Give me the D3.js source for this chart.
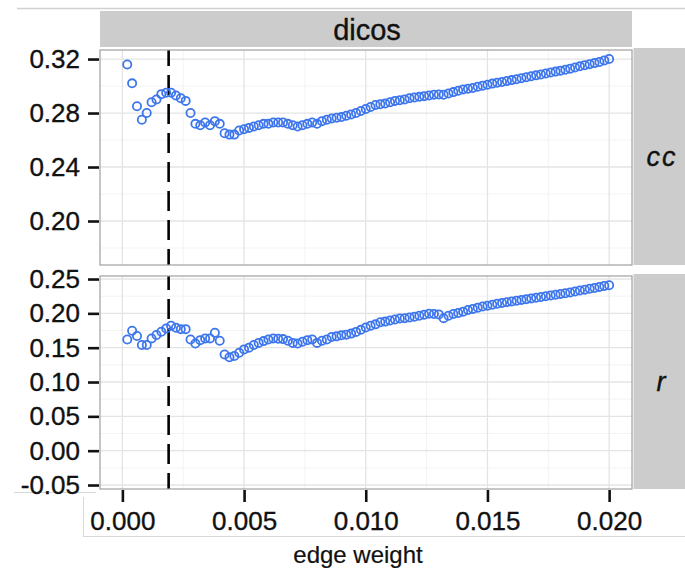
<!DOCTYPE html>
<html>
<head>
<meta charset="utf-8">
<script src="https://cdn.jsdelivr.net/npm/d3@7"></script>
<style>
  body { margin: 0; background: #fff; }
  svg text { font-family: "Liberation Sans", Arial, Helvetica, sans-serif; fill: #111; stroke: #111; stroke-width: 0.35px; }
</style>
</head>
<body>
<script>
// edge weight values along x
var edgeWeight = [0.0002,0.0004,0.0006,0.0008,0.0010,0.0012,0.0014,0.0016,0.0018,0.0020,
  0.0022,0.0024,0.0026,0.0028,0.0030,0.0032,0.0034,0.0036,0.0038,0.0040,
  0.0042,0.0044,0.0046,0.0048,0.0050,0.0052,0.0054,0.0056,0.0058,0.0060,
  0.0062,0.0064,0.0066,0.0068,0.0070,0.0072,0.0074,0.0076,0.0078,0.0080,
  0.0082,0.0084,0.0086,0.0088,0.0090,0.0092,0.0094,0.0096,0.0098,0.0100,
  0.0102,0.0104,0.0106,0.0108,0.0110,0.0112,0.0114,0.0116,0.0118,0.0120,
  0.0122,0.0124,0.0126,0.0128,0.0130,0.0132,0.0134,0.0136,0.0138,0.0140,
  0.0142,0.0144,0.0146,0.0148,0.0150,0.0152,0.0154,0.0156,0.0158,0.0160,
  0.0162,0.0164,0.0166,0.0168,0.0170,0.0172,0.0174,0.0176,0.0178,0.0180,
  0.0182,0.0184,0.0186,0.0188,0.0190,0.0192,0.0194,0.0196,0.0198,0.0200];

var ccValues = [0.316,0.302,0.285,0.275,0.280,0.288,0.290,0.294,0.295,0.295,
  0.293,0.291,0.289,0.280,0.272,0.271,0.273,0.271,0.274,0.272,
  0.265,0.264,0.264,0.267,0.268,0.269,0.270,0.271,0.272,0.272,
  0.273,0.273,0.273,0.272,0.271,0.270,0.271,0.272,0.273,0.272,
  0.274,0.275,0.276,0.2765,0.277,0.278,0.279,0.280,0.2815,0.283,
  0.2845,0.286,0.2865,0.287,0.288,0.289,0.2895,0.290,0.291,0.2915,
  0.292,0.2925,0.293,0.2935,0.2937,0.2935,0.2945,0.2955,0.2965,0.2975,
  0.298,0.2985,0.2995,0.3003,0.301,0.3018,0.3025,0.303,0.3037,0.3044,
  0.305,0.3058,0.3065,0.3072,0.3079,0.3086,0.3093,0.310,0.3107,0.3114,
  0.3121,0.3129,0.3137,0.3146,0.3154,0.3162,0.317,0.3178,0.319,0.320];

var rValues = [0.162,0.1746,0.167,0.154,0.154,0.1635,0.1684,0.1732,0.178,0.182,
  0.179,0.177,0.177,0.162,0.156,0.161,0.1635,0.1635,0.1717,0.160,
  0.140,0.136,0.138,0.1426,0.1475,0.150,0.154,0.157,0.1596,0.162,
  0.1635,0.163,0.1625,0.160,0.157,0.156,0.1586,0.161,0.162,0.157,
  0.160,0.162,0.1655,0.1665,0.168,0.169,0.1705,0.173,0.176,0.1795,
  0.182,0.184,0.187,0.188,0.1895,0.191,0.1925,0.193,0.194,0.195,
  0.1965,0.198,0.1995,0.199,0.1985,0.193,0.1965,0.199,0.2005,0.2025,
  0.205,0.2065,0.2083,0.210,0.2112,0.2125,0.214,0.2152,0.2163,0.2174,
  0.2185,0.2196,0.2207,0.2218,0.2228,0.2239,0.225,0.2261,0.2272,0.2283,
  0.2292,0.2305,0.2318,0.2332,0.2345,0.2358,0.237,0.2385,0.240,0.241];

var xTicks = [0, 0.005, 0.010, 0.015, 0.020];
var xMinor = [0.0025, 0.0075, 0.0125, 0.0175];
var ccTicks = [0.20, 0.24, 0.28, 0.32];
var ccMinor = [0.18, 0.22, 0.26, 0.30];
var rTicks = [-0.05, 0, 0.05, 0.10, 0.15, 0.20, 0.25];
var rMinor = [-0.025, 0.025, 0.075, 0.125, 0.175, 0.225];
var cutoff = 0.0019;

var svg = d3.select("body")
            .append("svg")
            .attr("width", 685)
            .attr("height", 569);

var left = 100, right = 632;
var x = d3.scaleLinear().domain([-0.00092, 0.02094]).range([left, right]);

// plain hyphen for negatives, like the original
function fmt(p) { return d => d3.format(p)(d).replace("\u2212", "-"); }

var panels = [
  {name: "cc", values: ccValues, ticks: ccTicks, minor: ccMinor, top: 50, bottom: 265,
   domain: [0.1674, 0.3267]},
  {name: "r", values: rValues, ticks: rTicks, minor: rMinor, top: 276, bottom: 489,
   domain: [-0.0558, 0.2544]}
];

// stray frame lines from the original screenshot
svg.append("line").attr("x1", 17).attr("x2", 685).attr("y1", 8.5).attr("y2", 8.5)
   .attr("stroke", "#d0d0d0").attr("stroke-width", 1.5);
svg.append("line").attr("x1", 14).attr("x2", 96).attr("y1", 492.5).attr("y2", 492.5)
   .attr("stroke", "#d8d8d8").attr("stroke-width", 1);
svg.append("line").attr("x1", 83.5).attr("x2", 83.5).attr("y1", 497).attr("y2", 537)
   .attr("stroke", "#d8d8d8").attr("stroke-width", 1);
svg.append("line").attr("x1", 83).attr("x2", 685).attr("y1", 536.5).attr("y2", 536.5)
   .attr("stroke", "#d8d8d8").attr("stroke-width", 1);

// top strip
svg.append("rect").attr("x", left).attr("y", 11).attr("width", right - left).attr("height", 36)
   .attr("fill", "#cccccc");
svg.append("text").attr("x", (left + right) / 2 + 1).attr("y", 40)
   .attr("text-anchor", "middle").style("font-size", "29px").text("dicos");

panels.forEach(function(p) {
  var y = d3.scaleLinear().domain(p.domain).range([p.bottom, p.top]);
  var g = svg.append("g");

  g.append("rect").attr("x", left).attr("y", p.top)
   .attr("width", right - left).attr("height", p.bottom - p.top).attr("fill", "#fff");

  // minor grid
  g.selectAll(".vmin").data(xMinor).enter().append("line")
   .attr("x1", d => x(d)).attr("x2", d => x(d)).attr("y1", p.top).attr("y2", p.bottom)
   .attr("stroke", "#f3f3f3").attr("stroke-width", 1);
  g.selectAll(".hmin").data(p.minor).enter().append("line")
   .attr("x1", left).attr("x2", right).attr("y1", d => y(d)).attr("y2", d => y(d))
   .attr("stroke", "#f3f3f3").attr("stroke-width", 1);
  // major grid
  g.selectAll(".vmaj").data(xTicks).enter().append("line")
   .attr("x1", d => x(d)).attr("x2", d => x(d)).attr("y1", p.top).attr("y2", p.bottom)
   .attr("stroke", "#e4e4e4").attr("stroke-width", 1.3);
  g.selectAll(".hmaj").data(p.ticks).enter().append("line")
   .attr("x1", left).attr("x2", right).attr("y1", d => y(d)).attr("y2", d => y(d))
   .attr("stroke", "#e4e4e4").attr("stroke-width", 1.3);

  // cutoff line
  g.append("line").attr("x1", x(cutoff)).attr("x2", x(cutoff))
   .attr("y1", p.bottom).attr("y2", p.top)
   .attr("stroke", "#000").attr("stroke-width", 2.6)
   .attr("stroke-dasharray", "20,9").attr("stroke-dashoffset", 4);

  // points
  g.selectAll("circle").data(p.values).enter().append("circle")
   .attr("cx", (d, i) => x(edgeWeight[i]))
   .attr("cy", d => y(d))
   .attr("r", 4.1)
   .attr("fill", "none")
   .attr("stroke", "#3d76ec")
   .attr("stroke-width", 1.8);

  // border
  g.append("rect").attr("x", left).attr("y", p.top)
   .attr("width", right - left).attr("height", p.bottom - p.top)
   .attr("fill", "none").attr("stroke", "#a0a0a0").attr("stroke-width", 1.2);

  // right strip
  svg.append("rect").attr("x", right + 1.5).attr("y", p.top - 2)
   .attr("width", 60).attr("height", p.bottom - p.top + 2).attr("fill", "#cccccc");
  svg.append("text").attr("x", 662).attr("y", (p.top + p.bottom) / 2 + 8)
   .attr("text-anchor", "middle").style("font-size", "27px").style("font-style", "italic")
   .style("letter-spacing", "2px").text(p.name);

  // y axis
  var ax = svg.append("g").attr("transform", "translate(99,0)")
   .call(d3.axisLeft(y).tickValues(p.ticks).tickSize(11).tickPadding(8).tickFormat(fmt(".2f")));
  ax.select(".domain").remove();
  ax.selectAll(".tick line").attr("stroke", "#111").attr("stroke-width", 2.6);
  ax.selectAll(".tick text").style("font-size", "26px").attr("fill", "#111")
   .attr("font-family", null);
});

// x axis
var xa = svg.append("g").attr("transform", "translate(0,490)")
  .call(d3.axisBottom(x).tickValues(xTicks).tickSize(12).tickPadding(10).tickFormat(fmt(".3f")));
xa.select(".domain").remove();
xa.selectAll(".tick line").attr("stroke", "#111").attr("stroke-width", 2.6);
xa.selectAll(".tick text").style("font-size", "26px").attr("fill", "#111").attr("font-family", null);

svg.append("text").attr("x", 358).attr("y", 563).attr("text-anchor", "middle")
   .style("font-size", "24px").style("stroke-width", "0.2px").text("edge weight");
</script>
</body>
</html>
